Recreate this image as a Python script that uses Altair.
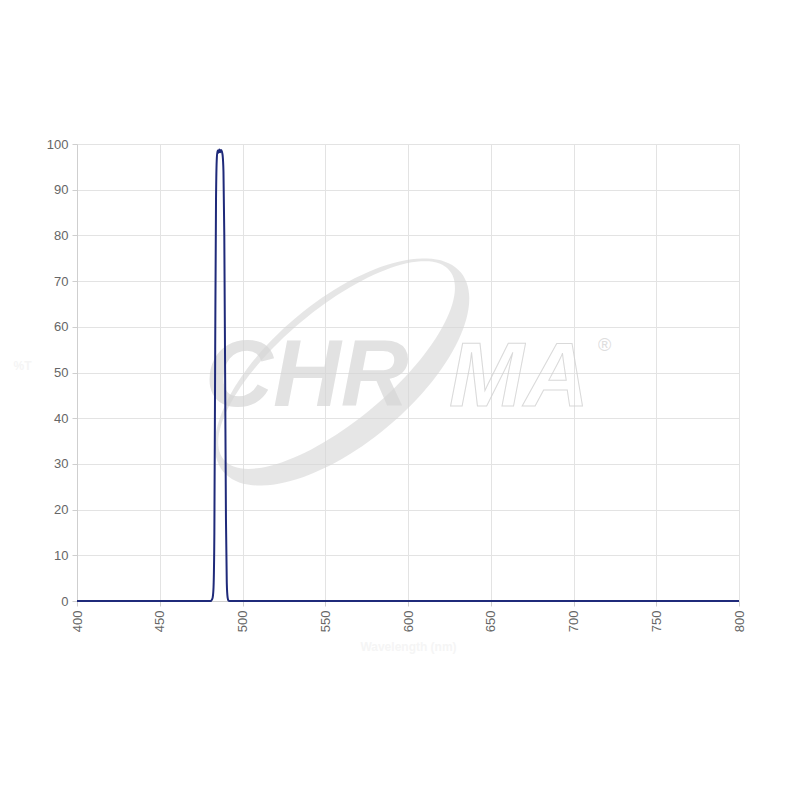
import altair as alt
import pandas as pd
import numpy as np

# Transmission spectrum (wavelength nm, % transmission)
wavelength = [400, 450, 480, 481, 481.5, 482, 482.5, 483, 483.5, 484, 484.5, 485,
              485.5, 486, 486.5, 487, 487.5, 488, 488.5, 489, 489.5, 490, 490.5,
              491, 491.5, 492, 500, 550, 600, 650, 700, 750, 800]
transmission = [0, 0, 0, 0, 0.3, 0.8, 3, 15, 55, 88, 97, 98.6,
                98.1, 98.8, 98.2, 98.7, 98.4, 97.5, 94, 80, 50, 18, 4,
                0.8, 0.1, 0, 0, 0, 0, 0, 0, 0, 0]

x_ticks = [400, 450, 500, 550, 600, 650, 700, 750, 800]
y_ticks = [0, 10, 20, 30, 40, 50, 60, 70, 80, 90, 100]

df = pd.DataFrame({"wl": wavelength, "t": transmission})

W, H = 662, 457
FONT = "Liberation Sans"

# watermark ring shape (rotated crescent ellipse), unit coordinates
def ell(cx, cy, rx, ry, rot, n=120, rev=False):
    a = np.linspace(0, 2 * np.pi, n, endpoint=False)
    if rev:
        a = a[::-1]
    x = rx * np.cos(a)
    y = ry * np.sin(a)
    c, s = np.cos(rot), np.sin(rot)
    xr = cx + x * c - y * s
    yr = cy + x * s + y * c
    pts = " L ".join(f"{u:.4f} {v:.4f}" for u, v in zip(xr, yr))
    return "M " + pts + " Z"

rot = -np.deg2rad(40)
ring = ell(0, 0, 1.0, 0.46, rot) + " " + ell(-0.035, -0.045, 0.95, 0.36, rot, rev=True)

wm_color = "#d6d6d6"
ring_mark = alt.Chart(df).mark_point(
    shape=ring, size=310 ** 2, filled=True, color=wm_color, opacity=0.6, strokeWidth=0
).encode(x=alt.value(265), y=alt.value(228)).transform_filter(alt.datum.wl == 400)

chr_text = alt.Chart(df).mark_text(
    text="CHR", font=FONT, fontSize=94, fontWeight="bold", fontStyle="italic",
    align="left", baseline="alphabetic", color=wm_color, opacity=0.7
).encode(x=alt.value(128), y=alt.value(262)).transform_filter(alt.datum.wl == 400)

ma_text = alt.Chart(df).mark_text(
    text="MA", font=FONT, fontSize=90, fontWeight="bold", fontStyle="italic",
    align="left", baseline="alphabetic", fill="white", fillOpacity=0,
    stroke="#d0d0d0", strokeWidth=1, strokeOpacity=0.8
).encode(x=alt.value(372), y=alt.value(262)).transform_filter(alt.datum.wl == 400)

reg_text = alt.Chart(df).mark_text(
    text="®", font=FONT, fontSize=18, align="left", baseline="middle",
    color=wm_color, opacity=0.8
).encode(x=alt.value(521), y=alt.value(202)).transform_filter(alt.datum.wl == 400)

line = alt.Chart(df).mark_line(
    color="#1f2a7a", strokeWidth=2, interpolate="monotone"
).encode(
    x=alt.X("wl:Q", scale=alt.Scale(domain=[400, 800], nice=False, zero=False),
            axis=alt.Axis(values=x_ticks, labelAngle=-90, labelAlign="right",
                          labelBaseline="middle", labelPadding=4,
                          title="Wavelength (nm)", titleColor="#f5f5f5",
                          titleFontSize=12, titlePadding=10)),
    y=alt.Y("t:Q", scale=alt.Scale(domain=[0, 100], nice=False),
            axis=alt.Axis(values=y_ticks, title="%T", titleColor="#f5f5f5",
                          titleAngle=0, titleFontSize=12, titleX=-55, titleY=228,
                          labelPadding=4))
)

chart = alt.layer(ring_mark, chr_text, ma_text, reg_text, line).properties(
    width=W, height=H,
    autosize=alt.AutoSizeParams(type="none"),
    padding={"left": 69, "top": 136, "right": 30, "bottom": 60},
).configure_view(stroke=None).configure_axis(
    labelFont=FONT, labelFontSize=13, labelColor="#666666",
    titleFont=FONT, gridColor="#e3e3e3", gridWidth=1,
    domainColor="#cfcfcf", tickColor="#cfcfcf", tickSize=5,
    labelFlush=False
)

chart.save("out.html", embed_options={"renderer": "svg", "actions": False})
